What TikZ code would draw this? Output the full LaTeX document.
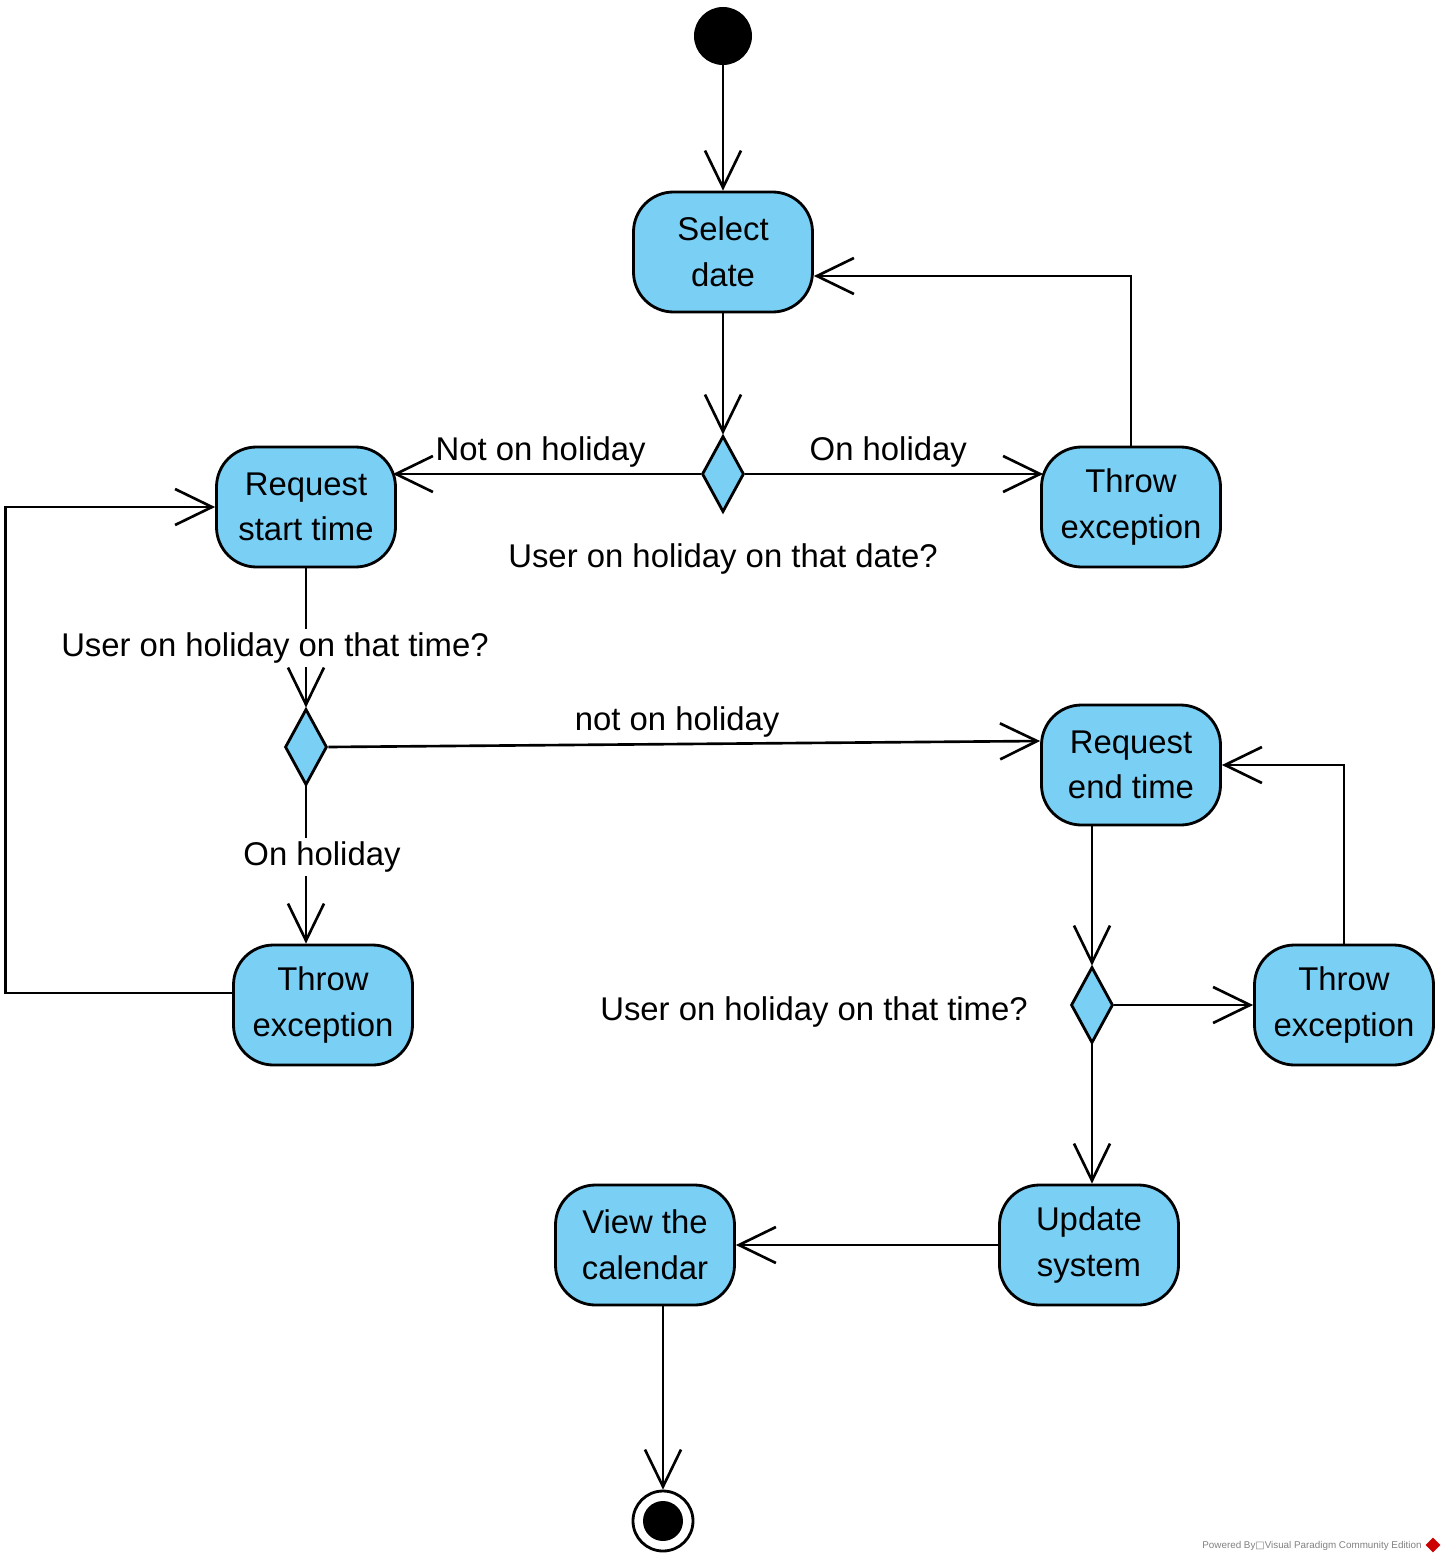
\documentclass[tikz,border=0pt]{standalone}
\usepackage{fontspec}
\setmainfont{Liberation Sans}
\newfontfamily\symfont{DejaVu Sans}
\usepackage{tikz}
\usetikzlibrary{shapes.geometric, arrows.meta}
\definecolor{actblue}{RGB}{122,207,245}
\tikzstyle{startdot} = [circle, fill=black, minimum size=1.16cm, inner sep=0]
\tikzstyle{enddot} = [circle, draw=black, fill=white, minimum size=1.2cm, inner sep=0, line width=1.6pt]
\tikzstyle{action} = [rectangle, rounded corners=0.8cm, minimum width=3.58cm, minimum height=2.4cm, text centered, align=center, draw=black, fill=actblue, line width=1.6pt]
\tikzstyle{decision} = [diamond, minimum width=0.84cm, minimum height=1.52cm, inner sep=0, draw=black, fill=actblue, line width=1.6pt]
\tikzstyle{arrow} = [-{Straight Barb[length=0.74cm, width=0.72cm]}, line width=1.5pt]
\tikzstyle{guard} = [fill=white, inner sep=2pt]
\tikzstyle{tag} = [inner sep=3pt]

\begin{document}
\begin{tikzpicture}[node distance=0.2cm, font=\fontsize{18.7}{26}\selectfont]
\useasboundingbox (-14.46,0.72) rectangle (14.46,-30.54);
%放置活动与判断节点
\node[startdot](start){};
\node[action, below of = start, yshift = -4.12cm](select){Select\\date};
\node[decision, below of = select, yshift = -4.24cm](dec1){};
\node[action, left of = dec1, xshift = -8.14cm, yshift = -0.66cm](reqstart){Request\\start time};
\node[action, right of = dec1, xshift = 7.96cm, yshift = -0.66cm](throw1){Throw\\exception};
\node[below of = dec1, yshift = -1.5cm](q1){User on holiday on that date?};
\node[decision, below of = reqstart, yshift = -4.6cm](dec2){};
\node[action, below of = dec2, xshift = 0.34cm, yshift = -4.96cm](throw2){Throw\\exception};
\node[action, right of = dec2, xshift = 16.3cm, yshift = -0.36cm](reqend){Request\\end time};
\node[decision, below of = reqend, xshift = -0.78cm, yshift = -4.6cm](dec3){};
\node[left of = dec3, xshift = -5.36cm, yshift = -0.14cm](q3){User on holiday on that time?};
\node[action, right of = dec3, xshift = 4.84cm](throw3){Throw\\exception};
\node[action, below of = dec3, xshift = -0.06cm, yshift = -4.6cm](update){Update\\system};
\node[action, left of = update, xshift = -8.68cm](view){View the\\calendar};
\node[enddot, below of = view, xshift = 0.36cm, yshift = -5.32cm](stop){};
\fill (stop) circle (0.4cm);
%\node[below of = stop](credit){};
\node[text=gray, font=\fontsize{5.6}{6}\selectfont, right of = stop, xshift = 12.78cm, yshift = -0.5cm](credit){Powered By{\symfont □}Visual Paradigm Community Edition};
\node[diamond, fill=red!80!black, minimum size=0.3cm, inner sep=0, right of = stop, xshift = 15.2cm, yshift = -0.48cm](logo){};
%连线
\draw [arrow] (start) -- (select);
\draw [arrow] (select) -- (dec1);
\draw [arrow] (dec1.west) -- node [tag, above, pos=0.52] {Not on holiday} ([xshift=-0.08cm]dec1.west -| reqstart.east);
\draw [arrow] (dec1.east) -- node [tag, above, pos=0.48] {On holiday} ([xshift=0.06cm]dec1.east -| throw1.west);
\draw [arrow] (throw1.north) |- ([yshift=-0.48cm]select.east);
\draw [arrow] (reqstart) -- node [guard, pos=0.55, xshift=-0.62cm, yshift=-0.06cm] {User on holiday on that time?} (dec2);
\draw [arrow] (dec2.east) -- node [tag, above, pos=0.49] {not on holiday} ([yshift=0.48cm]reqend.west);
\draw [arrow] (dec2.south) -- node [guard, pos=0.45, xshift=0.32cm] {On holiday} (dec2.south |- throw2.north);
\draw [arrow] ([yshift=0.24cm]throw2.west) -- ++(-4.53,0) |- (reqstart.west);
\draw [arrow] (dec3 |- reqend.south) -- (dec3.north);
\draw [arrow] (dec3.east) -- (throw3.west);
\draw [arrow] (throw3.north) |- (reqend.east);
\draw [arrow] (dec3.south) -- (dec3.south |- update.north);
\draw [arrow] (update) -- (view);
\draw [arrow] (stop |- view.south) -- (stop.north);
\end{tikzpicture}
\end{document}
